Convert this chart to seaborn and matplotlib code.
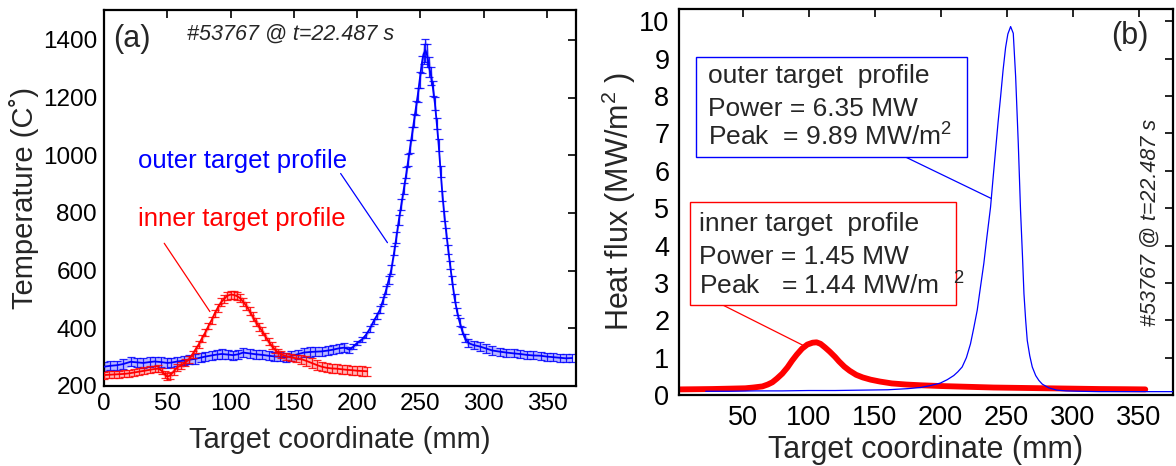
import matplotlib
matplotlib.use("Agg")
import matplotlib.pyplot as plt
import seaborn as sns
import pandas as pd
import numpy as np
from matplotlib.patches import Rectangle

# ---------------- data ----------------
# (a) surface temperature, outer target
outer_x = [0, 5, 10, 15, 21, 26, 31, 36, 40, 45, 50, 53, 58, 63, 67, 72, 77, 80, 85, 89,
           93, 98, 102, 106, 110, 115, 120, 125, 130, 134, 139, 144, 148, 153, 158, 163, 167,
           172, 177, 181, 186, 190, 194, 197, 200, 204, 207, 210, 213, 215.5, 218, 220.5,
           223, 225, 227, 229.5, 231, 233, 235, 237, 239, 240.5, 242, 243.5, 245, 246.5, 248,
           249.5, 251, 252.5, 254, 255.5, 257, 258.5, 260, 261.5, 263, 264.5, 266, 267.5, 269,
           270.5, 272, 273.5, 275, 277, 279, 281, 283, 285, 288, 292, 297, 302, 307, 313, 318,
           324, 329, 334, 339, 345, 350, 355, 360, 365, 370]
outer_T = [267, 270, 272, 276, 284, 282, 280, 283, 285, 283, 280, 281, 285, 288, 291, 294, 299,
           302, 306, 309, 311, 309, 307, 310, 316, 313, 310, 308, 305, 303, 301, 300, 304, 310,
           316, 318, 319, 320, 323, 326, 331, 333, 326, 336, 349, 362, 377, 398, 424, 443, 464,
           497, 534, 568, 603, 670, 715, 775, 830, 885, 940, 985, 1030, 1075, 1120, 1165, 1210,
           1262, 1315, 1350, 1365, 1345, 1305, 1275, 1232, 1180, 1110, 1035, 945, 860, 790, 730,
           673, 620, 568, 505, 458, 422, 392, 368, 349, 342, 337, 330, 323, 319, 316, 313, 311,
           308, 306, 305, 302, 300, 298, 296, 297]
outer_err = ([16] * 42
             + [10, 8, 8, 8, 9, 10, 10, 11, 12, 13,
                14, 15, 16, 17, 18, 18, 19, 20, 20, 21,
                22, 22, 23, 24, 25, 27, 30, 35, 40, 40,
                35, 30, 25, 22, 20, 20, 19, 18, 18, 17,
                16, 15, 14, 14, 13, 13, 13, 14]
             + [14] * 17)

# (a) surface temperature, inner target
inner_x = [0, 4, 8, 12, 16, 20, 24, 28, 32, 36, 40, 43, 46, 48, 50, 52, 55, 58, 61, 64, 67,
           70, 72.5, 75, 77.5, 80, 82.5, 85, 87.5, 90, 92.5, 95, 97.5, 100, 102.5, 105, 107.5,
           110, 112.5, 115, 117.5, 120, 122.5, 125, 127.5, 130, 132.5, 135, 137.5, 140, 144,
           148, 152, 156, 160, 164, 168, 172, 176, 180, 184, 188, 192, 196, 200, 204, 208]
inner_T = [238, 239, 240, 241, 242, 244, 247, 250, 253, 256, 259, 260, 252, 240, 232, 236, 250,
           265, 272, 280, 292, 310, 328, 345, 366, 385, 408, 428, 452, 472, 490, 503, 513, 517,
           516, 512, 505, 492, 478, 460, 441, 423, 406, 390, 372, 355, 340, 327, 316, 310, 303,
           299, 296, 293, 287, 280, 273, 267, 263, 261, 260, 258, 256, 255, 253, 252, 251]
inner_err = [12] * 29 + [14] * 14 + [13] * 10 + [16] * 14

# (b) heat flux profiles
outer_q_x = [22, 40, 60, 80, 100, 120, 140, 160, 175, 184.7, 192, 199.8, 205, 209.9, 213,
             216.3, 219.5, 222.6, 225, 227.7, 230, 232.7, 235, 237.8, 239.7, 241.6, 243.5,
             245.4, 247.3, 249.2, 250.9, 253, 255, 256.8, 258.8, 260.5, 262, 263.1, 264.4,
             265.6, 267.5, 269.4, 272, 274.4, 277, 282, 288, 295, 305, 320, 340, 360, 376]
outer_q = [0.10, 0.10, 0.11, 0.11, 0.12, 0.12, 0.13, 0.14, 0.17, 0.20, 0.25, 0.32, 0.41,
           0.52, 0.62, 0.75, 1.00, 1.37, 1.78, 2.27, 2.85, 3.52, 4.22, 5.03, 5.80, 6.55, 7.30,
           7.98, 8.70, 9.30, 9.66, 9.86, 9.68, 8.52, 6.73, 4.95, 3.70, 2.71, 2.00, 1.46, 1.05,
           0.75, 0.52, 0.39, 0.29, 0.19, 0.13, 0.11, 0.10, 0.09, 0.09, 0.09, 0.09]

inner_q_x = [2, 15, 27, 40, 52, 58, 65, 69, 72.5, 76, 80, 84, 87.5, 91, 95, 99, 103, 106,
             109, 112.5, 116, 120, 123, 127, 131, 136, 141, 147, 154, 163, 174, 185, 200, 220,
             240, 260, 280, 300, 320, 340, 355]
inner_q = [0.15, 0.155, 0.16, 0.17, 0.18, 0.20, 0.23, 0.28, 0.34, 0.44, 0.57, 0.74, 0.92,
           1.08, 1.24, 1.35, 1.40, 1.41, 1.37, 1.27, 1.16, 1.02, 0.90, 0.76, 0.65, 0.54, 0.47,
           0.41, 0.36, 0.31, 0.28, 0.26, 0.24, 0.22, 0.20, 0.19, 0.18, 0.17, 0.16, 0.155, 0.15]

temp_ticks = [200, 400, 600, 800, 1000, 1200, 1400]
coord_ticks_a = [0, 50, 100, 150, 200, 250, 300, 350]
coord_ticks_b = [50, 100, 150, 200, 250, 300, 350]
flux_ticks = list(range(0, 11))

shot_label = "#53767 @ t=22.487 s"
outer_box = ["outer target  profile", "Power = 6.35 MW", r"Peak  = 9.89 MW/m$^{\mathrm{2}}$"]
inner_box = ["inner target  profile", "Power = 1.45 MW", r"Peak   = 1.44 MW/m  $^{\mathrm{2}}$"]

# ---------------- style ----------------
sns.set_style("white")
plt.rcParams["font.family"] = ["Liberation Sans", "DejaVu Sans"]
plt.rcParams["mathtext.fontset"] = "custom"
plt.rcParams["mathtext.rm"] = "Liberation Sans"
plt.rcParams["mathtext.it"] = "Liberation Sans:italic"
plt.rcParams["mathtext.bf"] = "Liberation Sans:bold"

BLUE = (0, 0, 1)
RED = (1, 0, 0)

fig = plt.figure(figsize=(11.76, 4.66), dpi=100)
W, H = 1176, 466
ax1 = fig.add_axes([104 / W, (H - 386) / H, 472 / W, 376 / H])
ax2 = fig.add_axes([679 / W, (H - 395) / H, 494 / W, 386 / H])

for ax in (ax1, ax2):
    for s in ax.spines.values():
        s.set_linewidth(1.6)
        s.set_color("black")
        s.set_visible(True)
    ax.tick_params(direction="in", top=True, right=True, length=6, width=1.2,
                   colors="black")

# ---------------- panel (a) ----------------
df_out = pd.DataFrame({"x": outer_x, "T": outer_T, "e": outer_err})
df_in = pd.DataFrame({"x": inner_x, "T": inner_T, "e": inner_err})

ax1.fill_between(df_out["x"], df_out["T"] - df_out["e"], df_out["T"] + df_out["e"],
                 color=BLUE, alpha=0.28, lw=0, zorder=1)
ax1.errorbar(outer_x, outer_T, yerr=outer_err, fmt="none", ecolor=BLUE, elinewidth=0.9,
             capsize=3, capthick=0.9, alpha=0.85, zorder=2)
sns.lineplot(data=df_out, x="x", y="T", ax=ax1, color=BLUE, lw=1.3, sort=False,
             estimator=None, zorder=3)
ax1.fill_between(df_in["x"], df_in["T"] - df_in["e"], df_in["T"] + df_in["e"],
                 color=RED, alpha=0.28, lw=0, zorder=3.5)
ax1.errorbar(inner_x, inner_T, yerr=inner_err, fmt="none", ecolor=RED, elinewidth=0.9,
             capsize=3, capthick=0.9, alpha=0.85, zorder=4)
sns.lineplot(data=df_in, x="x", y="T", ax=ax1, color=RED, lw=1.3, sort=False,
             estimator=None, zorder=5)

ax1.set_xlim(0, 373)
ax1.set_ylim(200, 1504)
ax1.set_xticks(coord_ticks_a)
ax1.set_yticks(temp_ticks)
ax1.tick_params(axis="both", labelsize=17.5, pad=5)
ax1.set_xlabel("Target coordinate (mm)", fontsize=21, labelpad=8)
ax1.set_ylabel("Temperature (C˚)", fontsize=21, labelpad=3)

ax1.text(0.019, 0.923, "(a)", transform=ax1.transAxes, fontsize=22, va="center", ha="left")
ax1.text(0.176, 0.937, shot_label, transform=ax1.transAxes, fontsize=15.5, style="italic",
         va="center", ha="left")

ax1.text(27, 956, "outer target profile", color=BLUE, fontsize=18.5, va="baseline", ha="left")
ax1.text(27, 755, "inner target profile", color=RED, fontsize=18.5, va="baseline", ha="left")
ax1.plot([187, 224], [937, 697], color=BLUE, lw=0.9)
ax1.plot([47.6, 83.7], [695, 458], color=RED, lw=0.9)

# ---------------- panel (b) ----------------
df_qo = pd.DataFrame({"x": outer_q_x, "q": outer_q})
df_qi = pd.DataFrame({"x": inner_q_x, "q": inner_q})
sns.lineplot(data=df_qo, x="x", y="q", ax=ax2, color=BLUE, lw=0.9, sort=False,
             estimator=None, zorder=3)
sns.lineplot(data=df_qi, x="x", y="q", ax=ax2, color=RED, lw=4.2, sort=False,
             estimator=None, zorder=2)

ax2.set_xlim(1.8, 376)
ax2.set_ylim(0, 10.33)
ax2.set_xticks(coord_ticks_b)
ax2.set_yticks(flux_ticks)
ax2.tick_params(axis="both", labelsize=19.5, pad=7)
ax2.set_xlabel("Target coordinate (mm)", fontsize=22, labelpad=3)
ax2.set_ylabel(r"Heat flux (MW/m$^{\mathrm{2}}$ )", fontsize=22, labelpad=1)

ax2.text(0.913, 0.930, "(b)", transform=ax2.transAxes, fontsize=22, va="center", ha="center")
ax2.text(0.953, 0.448, shot_label, transform=ax2.transAxes, fontsize=15.5, style="italic",
         va="center", ha="center", rotation=90)


def fx(px):
    return (px - 679) / 494


def fy(py):
    return (395 - py) / 386


ax2.add_patch(Rectangle((fx(696), fy(157)), fx(967) - fx(696), fy(57) - fy(157),
                        transform=ax2.transAxes, fill=True, facecolor="white",
                        edgecolor=BLUE, lw=1.0, zorder=6))
ax2.add_patch(Rectangle((fx(690), fy(305)), fx(956) - fx(690), fy(202) - fy(305),
                        transform=ax2.transAxes, fill=True, facecolor="white",
                        edgecolor=RED, lw=1.0, zorder=6))
for line, py in zip(outer_box, [83, 116, 146]):
    ax2.text(fx(708), fy(py), line, transform=ax2.transAxes, fontsize=19, va="baseline",
             ha="left", zorder=7)
for line, py in zip(inner_box, [231, 264, 295]):
    ax2.text(fx(699), fy(py), line, transform=ax2.transAxes, fontsize=19, va="baseline",
             ha="left", zorder=7)

ax2.plot([173.3, 238.3], [6.37, 5.26], color=BLUE, lw=0.9, zorder=5)
ax2.plot([33.7, 97.4], [2.43, 1.30], color=RED, lw=0.9, zorder=5)

fig.savefig("out.png", dpi=100)
